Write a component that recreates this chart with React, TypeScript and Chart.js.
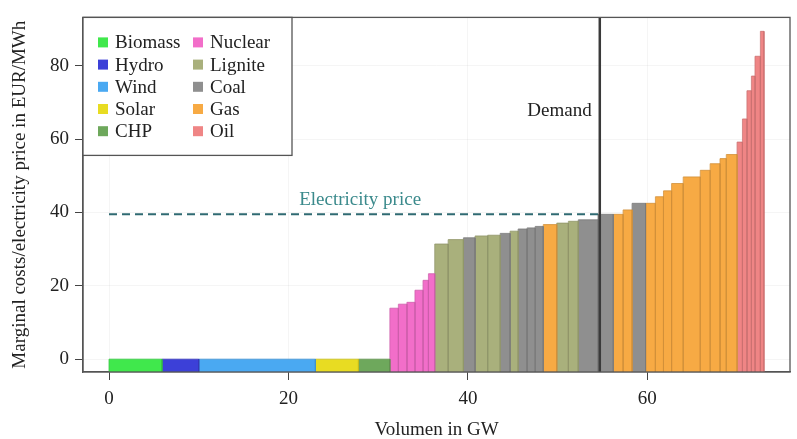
import React, { useEffect, useRef } from "react";
import { Chart, registerables } from "chart.js";

Chart.register(...registerables);

// ---------- data ----------
const techNames = ["Biomass", "Hydro", "Wind", "Solar", "CHP", "Nuclear", "Lignite", "Coal", "Gas", "Oil"];
const techColors = ["#40e84c", "#3c40d8", "#4aa9f2", "#e8dc22", "#6ea85c", "#f26ec9", "#a9b07c", "#8f8f8f", "#f7aa44", "#ef8585"];

// capacity (GW) of each plant block in merit order
const capacities = [
  5.9, 4.1, 13.0, 4.8, 3.5,
  0.95, 0.95, 0.9, 0.9, 0.6, 0.7,
  1.5, 1.7, 1.3, 1.4, 1.4, 1.1, 0.9, 1.0, 0.9, 0.9, 1.5, 1.3, 1.1, 2.2, 1.7,
  1.1, 1.0, 1.5, 1.1, 0.9, 0.9, 1.3, 1.9, 1.1, 1.1, 0.7, 1.2,
  0.6, 0.5, 0.5, 0.4, 0.6, 0.4,
];
// marginal cost (EUR/MWh) of each block
const marginalCosts = [
  0, 0, 0, 0, 0,
  13.9, 15.0, 15.5, 18.8, 21.5, 23.3,
  31.4, 32.6, 33.1, 33.6, 33.8, 34.3, 34.9, 35.5, 35.8, 36.2, 36.7, 37.1, 37.6, 38.0, 39.5,
  39.5, 40.7, 42.5, 42.5, 44.3, 45.9, 47.9, 49.7, 51.5, 53.3, 54.7, 55.8,
  59.2, 65.5, 73.2, 77.2, 82.6, 89.4,
];
// technology of each block
const blockTech = [
  "Biomass", "Hydro", "Wind", "Solar", "CHP",
  "Nuclear", "Nuclear", "Nuclear", "Nuclear", "Nuclear", "Nuclear",
  "Lignite", "Lignite", "Coal", "Lignite", "Lignite", "Coal", "Lignite", "Coal", "Coal", "Coal", "Gas", "Lignite", "Lignite", "Coal", "Coal",
  "Gas", "Gas", "Coal", "Gas", "Gas", "Gas", "Gas", "Gas", "Gas", "Gas", "Gas", "Gas",
  "Oil", "Oil", "Oil", "Oil", "Oil", "Oil",
];

const electricityPrice = 39.5;
const demand = 54.7;
const xTicks = [0, 20, 40, 60];
const yTicks = [0, 20, 40, 60, 80];
const xRange = [-2.9, 75.9];
const yRange = [-3.5, 93.2];
const priceLabelPos = [21.2, 43.4];
const demandLabelPos = [53.8, 67.8];

// ---------- helpers ----------
function darken(hex: string, f: number) {
  const n = parseInt(hex.slice(1), 16);
  const r = Math.round(((n >> 16) & 255) * f);
  const g = Math.round(((n >> 8) & 255) * f);
  const b = Math.round((n & 255) * f);
  return `rgb(${r},${g},${b})`;
}

const FONT = '"Liberation Serif", "DejaVu Serif", serif';

export default function App() {
  const ref = useRef<HTMLCanvasElement | null>(null);

  useEffect(() => {
    if (!ref.current) return;

    const datasets: any[] = [];
    // price line
    datasets.push({
      type: "scatter",
      data: [{ x: 0, y: electricityPrice }, { x: demand, y: electricityPrice }],
      showLine: true,
      borderColor: "#2f6a72",
      borderWidth: 2,
      borderDash: [8, 5],
      pointRadius: 0,
      fill: false,
      order: 0,
    });
    // demand line
    datasets.push({
      type: "scatter",
      data: [{ x: demand, y: yRange[0] }, { x: demand, y: yRange[1] }],
      showLine: true,
      borderColor: "#3a3a3a",
      borderWidth: 2.5,
      pointRadius: 0,
      fill: false,
      order: 0,
    });
    // blocks
    let cum = 0;
    capacities.forEach((w, i) => {
      const x0 = cum;
      const x1 = cum + w;
      cum = x1;
      const v = marginalCosts[i];
      const col = techColors[techNames.indexOf(blockTech[i])];
      datasets.push({
        type: "scatter",
        data: [
          { x: x0, y: yRange[0] },
          { x: x0, y: v },
          { x: x1, y: v },
          { x: x1, y: yRange[0] },
        ],
        showLine: true,
        borderColor: darken(col, 0.85),
        borderWidth: 0.8,
        backgroundColor: col,
        pointRadius: 0,
        fill: "start",
        order: 1,
      });
    });

    const overlay = {
      id: "overlay",
      afterDatasetsDraw(chart: any) {
        const { ctx, chartArea: a, scales } = chart;
        const xs = scales.x;
        const ys = scales.y;
        ctx.save();
        ctx.font = `19px ${FONT}`;
        ctx.textBaseline = "middle";
        ctx.fillStyle = "#3b8a8c";
        ctx.textAlign = "left";
        ctx.fillText("Electricity price", xs.getPixelForValue(priceLabelPos[0]), ys.getPixelForValue(priceLabelPos[1]));
        ctx.fillStyle = "#222";
        ctx.textAlign = "right";
        ctx.fillText("Demand", xs.getPixelForValue(demandLabelPos[0]), ys.getPixelForValue(demandLabelPos[1]));

        // plot box
        ctx.strokeStyle = "#555";
        ctx.lineWidth = 1.3;
        ctx.strokeRect(a.left, a.top, a.right - a.left, a.bottom - a.top);

        // legend
        const lx = a.left;
        const ly = a.top;
        const lw = 209;
        const lh = 138;
        ctx.fillStyle = "#fff";
        ctx.fillRect(lx, ly, lw, lh);
        ctx.strokeRect(lx, ly, lw, lh);
        ctx.textAlign = "left";
        techNames.forEach((name, i) => {
          const col = Math.floor(i / 5);
          const row = i % 5;
          const sx = lx + 15 + col * 95;
          const cy = ly + 25 + row * 22.2;
          ctx.fillStyle = techColors[i];
          ctx.fillRect(sx, cy - 5, 10, 10);
          ctx.fillStyle = "#222";
          ctx.fillText(name, sx + 17, cy + 1);
        });
        ctx.restore();
      },
    };

    const chart = new Chart(ref.current, {
      type: "scatter",
      data: { datasets },
      plugins: [overlay],
      options: {
        animation: false,
        responsive: false,
        devicePixelRatio: 1,
        layout: { padding: { left: 0, top: 14, right: 7, bottom: 0 } },
        plugins: { legend: { display: false }, tooltip: { enabled: false } },
        scales: {
          x: {
            type: "linear",
            min: xRange[0],
            max: xRange[1],
            afterBuildTicks: (s: any) => { s.ticks = xTicks.map((v) => ({ value: v })); },
            afterFit: (s: any) => { s.height = 67; },
            grid: { color: "rgba(0,0,0,0.04)", tickColor: "#444", tickLength: 8, lineWidth: 1 },
            border: { color: "#555", width: 1.3 },
            ticks: { color: "#222", font: { family: FONT, size: 19 }, padding: 8, maxRotation: 0 },
            title: {
              display: true,
              text: "Volumen in GW",
              color: "#222",
              font: { family: FONT, size: 19, lineHeight: 1 },
              padding: { top: 0, bottom: -1 },
            },
          },
          y: {
            type: "linear",
            min: yRange[0],
            max: yRange[1],
            afterBuildTicks: (s: any) => { s.ticks = yTicks.map((v) => ({ value: v })); },
            afterFit: (s: any) => { s.width = 83; },
            grid: { color: "rgba(0,0,0,0.04)", tickColor: "#444", tickLength: 8, lineWidth: 1 },
            border: { color: "#555", width: 1.3 },
            ticks: { color: "#222", font: { family: FONT, size: 19 }, padding: 6 },
            title: {
              display: true,
              text: "Marginal costs/electricity price in EUR/MWh",
              color: "#222",
              font: { family: FONT, size: 19, lineHeight: 1 },
              padding: { top: 11, bottom: 0 },
            },
          },
        },
      },
    });
    return () => chart.destroy();
  }, []);

  return (
    <div style={{ position: "absolute", left: 0, top: 0, width: 797, height: 439, background: "#fff" }}>
      <canvas ref={ref} width={797} height={439} style={{ display: "block" }} />
    </div>
  );
}
